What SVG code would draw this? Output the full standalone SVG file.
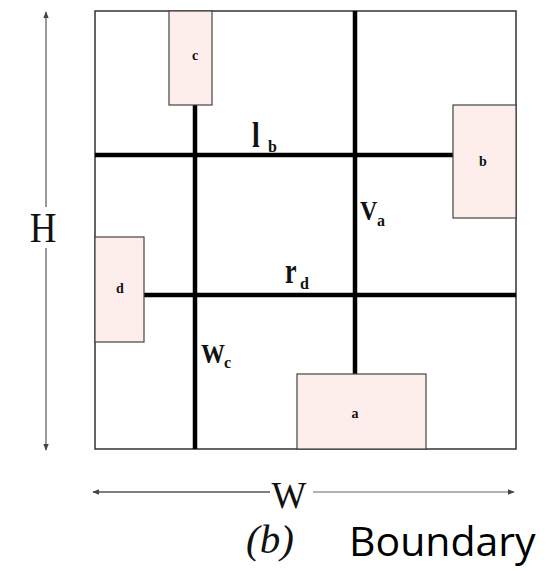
<svg xmlns="http://www.w3.org/2000/svg" width="556" height="571" viewBox="0 0 556 571">
<defs>
<style>
.box{fill:#fdeeec;stroke:#444;stroke-width:1.2}
.wire{stroke:#000;stroke-width:4.5;fill:none}
.blab{font-family:"Liberation Serif",serif;font-weight:bold;font-size:14px;fill:#111;text-anchor:middle}
.lab{font-family:"Liberation Serif",serif;font-weight:bold;fill:#111}
.dim{font-family:"Liberation Serif",serif;fill:#111;text-anchor:middle}
</style>
<marker id="ah" viewBox="0 0 10 10" refX="9" refY="5" markerWidth="7" markerHeight="7" orient="auto-start-reverse" markerUnits="userSpaceOnUse">
<path d="M0,1 L10,5 L0,9 z" fill="#444"/>
</marker>
</defs>
<rect x="0" y="0" width="556" height="571" fill="#fff"/>
<rect x="95" y="11" width="421" height="438" fill="none" stroke="#333" stroke-width="1.5"/>
<g id="connectors">
<line class="wire" x1="195" y1="105" x2="195" y2="449"/>
<line class="wire" x1="355" y1="11" x2="355" y2="374"/>
<line class="wire" x1="95" y1="155" x2="453" y2="155"/>
<line class="wire" x1="144" y1="295" x2="516" y2="295"/>
</g>
<g id="node-c"><rect class="box" x="169" y="11" width="43" height="94"/><text class="blab" x="195" y="60">c</text></g>
<g id="node-b"><rect class="box" x="453" y="105" width="63" height="113"/><text class="blab" x="483" y="166">b</text></g>
<g id="node-d"><rect class="box" x="95" y="237" width="49" height="105"/><text class="blab" x="120" y="293">d</text></g>
<g id="node-a"><rect class="box" x="297" y="374" width="129" height="75"/><text class="blab" x="355" y="418">a</text></g>
<g id="labels">
<text class="lab" transform="translate(252,147) scale(1,1.25)" font-size="28">l</text>
<text class="lab" x="268" y="152" font-size="16">b</text>
<text class="lab" transform="translate(360,220) scale(1,1.15)" font-size="24">V</text>
<text class="lab" x="377" y="226" font-size="16">a</text>
<text class="lab" transform="translate(285,283) scale(1,1.35)" font-size="26">r</text>
<text class="lab" x="300" y="289" font-size="16">d</text>
<text class="lab" transform="translate(201,363) scale(1,1.1)" font-size="24">W</text>
<text class="lab" x="224" y="368" font-size="16">c</text>
</g>
<g id="dimensions">
<line x1="46" y1="207" x2="46" y2="12" stroke="#999" stroke-width="2" marker-end="url(#ah)"/>
<line x1="46" y1="248" x2="46" y2="450" stroke="#999" stroke-width="2" marker-end="url(#ah)"/>
<text class="dim" transform="translate(43,242) scale(1,1.15)" font-size="37">H</text>
<line x1="270" y1="492" x2="93" y2="492" stroke="#555" stroke-width="1.5" marker-end="url(#ah)"/>
<line x1="313" y1="492" x2="514" y2="492" stroke="#999" stroke-width="1.5" marker-end="url(#ah)"/>
<text class="dim" x="289" y="508" font-size="37">W</text>
</g>
<text x="246" y="553" font-family="Liberation Serif,serif" font-style="italic" font-size="41" fill="#111">(b)</text>
<text x="349" y="556" font-family="Open Sans,sans-serif" font-size="41" fill="#000">Boundary</text>
</svg>
